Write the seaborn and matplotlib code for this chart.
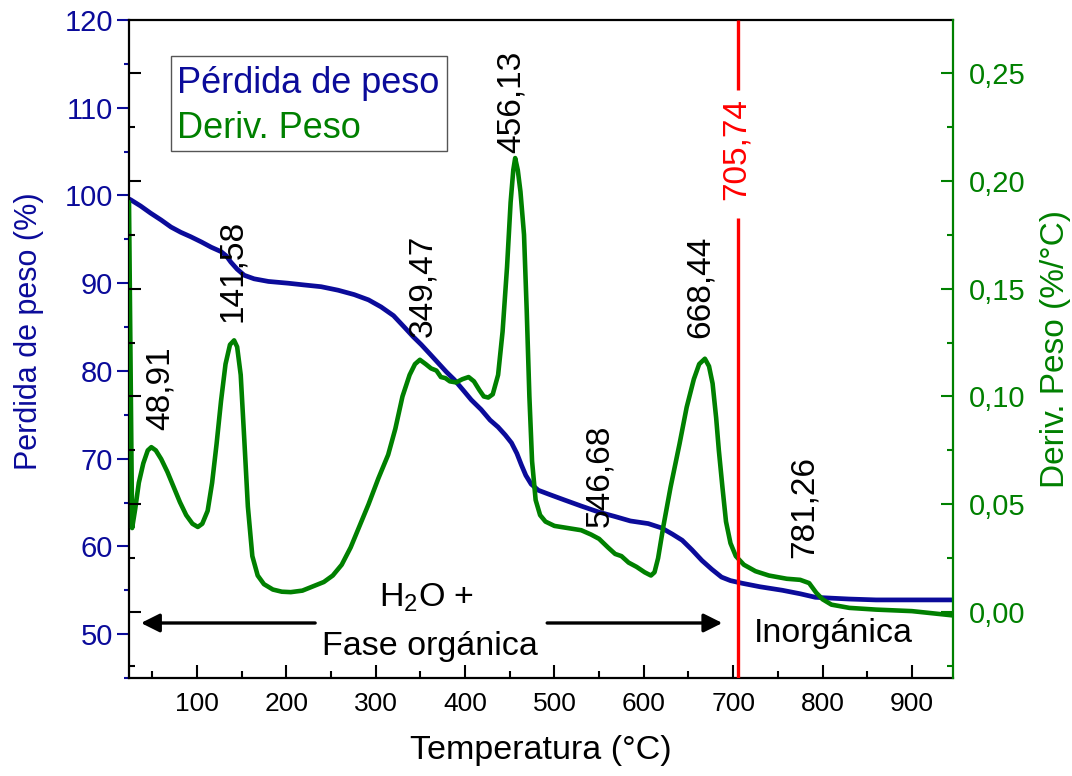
import matplotlib
matplotlib.use("Agg")
import matplotlib.pyplot as plt
import seaborn as sns
from matplotlib.patches import Rectangle
from matplotlib.ticker import MultipleLocator, FuncFormatter, NullFormatter

# --- TGA curve: residual weight (%) vs temperature (°C)
temp_w = [24, 26, 37, 48, 60, 71, 82, 93, 105, 116, 127, 133, 138, 145, 153, 164,
          180, 202, 220, 239, 258, 276, 292, 306, 320, 332, 342, 351, 361, 370,
          379, 388, 398, 407, 418, 428, 437, 445, 452, 458, 463, 468, 474, 482,
          495, 511, 530, 550, 568, 585, 605, 620, 632, 643, 654, 665, 676, 687,
          697, 710, 730, 755, 775, 792, 810, 830, 860, 900, 946]
weight = [99.6, 99.5, 98.8, 98.0, 97.2, 96.4, 95.8, 95.3, 94.7, 94.1, 93.6, 93.1,
          92.4, 91.6, 90.9, 90.5, 90.2, 90.0, 89.8, 89.6, 89.2, 88.7, 88.1, 87.3,
          86.3, 85.0, 83.9, 83.0, 81.9, 80.9, 79.9, 79.0, 77.8, 76.7, 75.6, 74.4,
          73.6, 72.7, 71.8, 70.6, 69.3, 68.1, 67.1, 66.4, 65.9, 65.3, 64.6, 63.9,
          63.4, 62.9, 62.6, 62.1, 61.4, 60.7, 59.6, 58.4, 57.4, 56.5, 56.1, 55.8,
          55.4, 55.0, 54.6, 54.2, 54.1, 54.0, 53.9, 53.9, 53.9]

# --- DTG curve: derivative of weight (%/°C) vs temperature (°C)
temp_d = [24, 27.5, 31, 35, 40, 45, 49, 54, 60, 67, 74, 81, 88, 95, 101, 106, 112,
          117, 122, 127, 132, 137, 141.6, 145, 149, 153, 157, 162, 168, 175, 185,
          195, 205, 218, 230, 242, 252, 262, 272, 282, 292, 303, 314, 322, 330,
          338, 344, 349.5, 356, 362, 368, 373, 378, 383, 390, 397, 404, 410, 416,
          421, 426, 431, 437, 442, 447, 451, 454, 456.1, 459, 462, 466, 469, 472,
          475, 479, 484, 490, 500, 515, 530, 541, 550, 560, 568, 575, 583, 592,
          601, 608, 612, 616, 622, 630, 640, 648, 656, 662, 668.4, 673, 677, 681,
          684, 688, 692, 697, 703, 712, 725, 740, 760, 775, 785, 793, 800, 810,
          830, 860, 900, 946]
deriv = [0.190, 0.039, 0.048, 0.060, 0.069, 0.075, 0.0765, 0.075, 0.071, 0.065,
         0.058, 0.051, 0.045, 0.041, 0.0395, 0.041, 0.047, 0.060, 0.078, 0.098,
         0.115, 0.124, 0.126, 0.123, 0.110, 0.080, 0.049, 0.026, 0.017, 0.013,
         0.0105, 0.0095, 0.0093, 0.010, 0.012, 0.014, 0.017, 0.022, 0.030, 0.040,
         0.050, 0.062, 0.073, 0.085, 0.100, 0.110, 0.115, 0.117, 0.115, 0.113,
         0.112, 0.109, 0.1085, 0.107, 0.1065, 0.108, 0.109, 0.107, 0.103, 0.100,
         0.0995, 0.101, 0.110, 0.130, 0.160, 0.190, 0.205, 0.2105, 0.205, 0.195,
         0.175, 0.140, 0.100, 0.070, 0.052, 0.045, 0.042, 0.040, 0.039, 0.038,
         0.036, 0.034, 0.030, 0.027, 0.026, 0.023, 0.021, 0.0185, 0.017, 0.0185,
         0.025, 0.040, 0.058, 0.078, 0.095, 0.108, 0.115, 0.1175, 0.114, 0.106,
         0.090, 0.075, 0.058, 0.042, 0.032, 0.026, 0.022, 0.019, 0.017, 0.0155,
         0.015, 0.0135, 0.009, 0.006, 0.0035, 0.002, 0.0012, 0.0005, -0.0015]

# Peak labels (text position in temperature / derivative units)
peak_labels = ["48,91", "141,58", "349,47", "456,13", "546,68", "668,44", "781,26"]
peak_label_x = [59, 140, 352.6, 452.1, 550.6, 663.5, 779.9]
peak_label_y = [0.0845, 0.1345, 0.1275, 0.2127, 0.0396, 0.127, 0.0252]

# Organic / inorganic boundary
boundary_temp = 705.74
boundary_label = "705,74"

legend_labels = ["Pérdida de peso", "Deriv. Peso"]

BLUE = "#0B0B9A"
GREEN = "#008000"
RED = "#FF0000"

sns.set_theme(style="white")
plt.rcParams["font.family"] = ["Liberation Sans", "DejaVu Sans"]
plt.rcParams["mathtext.default"] = "regular"
plt.rcParams["text.color"] = "black"
plt.rcParams["axes.labelcolor"] = "black"
plt.rcParams["xtick.color"] = "black"
plt.rcParams["ytick.color"] = "black"

W, H = 1072, 776
AX_L, AX_R, AX_T, AX_B = 129, 953, 20, 678
AX_W, AX_H = AX_R - AX_L, AX_B - AX_T
fig = plt.figure(figsize=(W / 100, H / 100), dpi=100)
fig.patch.set_facecolor("white")
ax = fig.add_axes([AX_L / W, 1 - AX_B / H, AX_W / W, AX_H / H])
ax2 = ax.twinx()   # derivative axis (right)
ax3 = ax.twinx()   # derivative ticks mirrored on the left spine

sns.lineplot(x=temp_w, y=weight, ax=ax, color=BLUE, linewidth=3.4, sort=False)
sns.lineplot(x=temp_d, y=deriv, ax=ax2, color=GREEN, linewidth=3.3, sort=False)

XLIM = (24, 946)
YLIM_W = (45, 120)
YLIM_D = (-0.0305, 0.2745)
for a in (ax, ax2, ax3):
    a.set_xlim(*XLIM)
ax.set_ylim(*YLIM_W)
ax2.set_ylim(*YLIM_D)
ax3.set_ylim(*YLIM_D)

# Boundary line with a gap for its label
ax2.vlines(boundary_temp, YLIM_D[0], 0.1826, color=RED, linewidth=2.4)
ax2.vlines(boundary_temp, 0.2419, YLIM_D[1], color=RED, linewidth=2.4)
ax2.text(boundary_temp - 2, 0.1910, boundary_label, rotation=90, ha="center",
         va="bottom", fontsize=24, color=RED)

for lab, tx, ty in zip(peak_labels, peak_label_x, peak_label_y):
    ax2.text(tx, ty, lab, rotation=90, ha="center", va="bottom", fontsize=24,
             color="black")

# Region arrows and texts
arrow_y = 51.27
arr = dict(arrowstyle="-|>", color="black", lw=2.4, mutation_scale=28,
           shrinkA=0, shrinkB=0)
ax.annotate("", xy=(37.4, arrow_y), xytext=(232.3, arrow_y), arrowprops=arr)
ax.annotate("", xy=(687.9, arrow_y), xytext=(491.9, arrow_y), arrowprops=arr)
ax.text(357, 53.09, "$H_2O$ +", ha="center", va="baseline", fontsize=24.5,
        color="black")
ax.text(361, 47.6, "Fase orgánica", ha="center", va="baseline", fontsize=24.5,
        color="black")
ax.text(811.7, 49.1, "Inorgánica", ha="center", va="baseline", fontsize=24.5,
        color="black")

# Axes styling
for s in ("left", "bottom", "top"):
    ax.spines[s].set_color("black")
    ax.spines[s].set_linewidth(1.6)
ax.spines["right"].set_visible(False)
for s in ("left", "bottom", "top"):
    ax2.spines[s].set_visible(False)
ax2.spines["right"].set_color(GREEN)
ax2.spines["right"].set_linewidth(1.6)
for s in ax3.spines.values():
    s.set_visible(False)

ax.xaxis.set_major_locator(MultipleLocator(100))
ax.xaxis.set_minor_locator(MultipleLocator(50))
ax.yaxis.set_major_locator(MultipleLocator(10))
ax.yaxis.set_minor_locator(MultipleLocator(5))
ax.tick_params(axis="x", which="both", direction="in", bottom=True, top=False,
               color="black", width=1.5, labelsize=19, labelcolor="black", pad=10)
ax.tick_params(axis="x", which="major", length=9.4)
ax.tick_params(axis="x", which="minor", length=5)
ax.tick_params(axis="y", which="both", direction="out", left=True, right=False,
               color=BLUE, width=1.5, labelsize=21, labelcolor=BLUE, pad=3)
ax.tick_params(axis="y", which="major", length=8.6)
ax.tick_params(axis="y", which="minor", length=3.6)

fmt_comma = FuncFormatter(lambda v, p: f"{v:.2f}".replace(".", ","))
for a in (ax2, ax3):
    a.yaxis.set_major_locator(MultipleLocator(0.05))
    a.yaxis.set_minor_locator(MultipleLocator(0.025))
ax2.yaxis.set_major_formatter(fmt_comma)
ax2.tick_params(axis="y", which="both", direction="in", right=True, left=False,
                color=GREEN, width=1.5, labelsize=21, labelcolor=GREEN, pad=11.5)
ax2.tick_params(axis="y", which="major", length=8.6)
ax2.tick_params(axis="y", which="minor", length=4.3)
ax2.tick_params(axis="x", which="both", bottom=False, top=False,
                labelbottom=False)

ax3.yaxis.set_ticks_position("left")
ax3.yaxis.set_major_formatter(NullFormatter())
ax3.tick_params(axis="y", which="both", direction="in", left=True, right=False,
                labelleft=False, labelright=False, color="black", width=1.5)
ax3.tick_params(axis="y", which="major", length=8.6)
ax3.tick_params(axis="y", which="minor", length=4.3)
ax3.tick_params(axis="x", which="both", bottom=False, top=False,
                labelbottom=False)

ax.set_xlabel("Temperatura (°C)", fontsize=24.5, color="black")
ax.xaxis.set_label_coords(0.5, -(735 - AX_B) / AX_H)
ax.set_ylabel("Perdida de peso (%)", fontsize=22, color=BLUE)
ax.yaxis.set_label_coords(-(AX_L - 44) / AX_W, (AX_B - 331) / AX_H)
ax2.set_ylabel("Deriv. Peso (%/°C)", fontsize=24, color=GREEN)
ax2.yaxis.set_label_coords((1040 - AX_L) / AX_W, 0.5)


# Key box: coloured text entries inside a thin grey frame
def ax_frac(px, py):
    return (px - AX_L) / AX_W, (AX_B - py) / AX_H


bx0, by0 = ax_frac(171, 151)
bx1, by1 = ax_frac(447, 56)
ax3.add_patch(Rectangle((bx0, by0), bx1 - bx0, by1 - by0, transform=ax3.transAxes,
                        facecolor="white", edgecolor="#555555", linewidth=1.0,
                        zorder=5))
for lab, col, base_y in zip(legend_labels, [BLUE, GREEN], [93, 138]):
    tx, ty = ax_frac(177, base_y)
    ax3.text(tx, ty, lab, transform=ax3.transAxes, ha="left", va="baseline",
             fontsize=26, color=col, zorder=6)

fig.savefig("out.png", dpi=100, facecolor="white")
